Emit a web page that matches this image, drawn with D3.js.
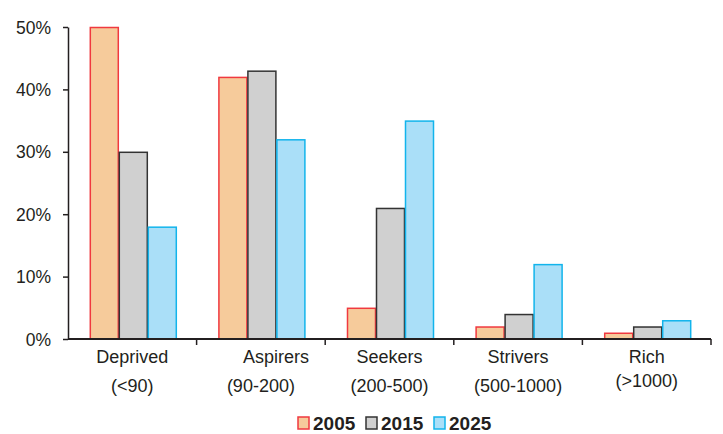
<!DOCTYPE html>
<html><head><meta charset="utf-8">
<script src="https://cdn.jsdelivr.net/npm/d3@7"></script>
<style>
html,body{margin:0;padding:0;background:#fff;}
svg text{font-family:"Liberation Sans",Arial,sans-serif;fill:#231f20;}
</style></head>
<body><svg id="c" width="723" height="434"></svg>
<script>
const categories = ["Deprived","Aspirers","Seekers","Strivers","Rich"];
const categorySub = ["(<90)","(90-200)","(200-500)","(500-1000)","(>1000)"];
const series = ["2005","2015","2025"];
const v2005 = [50,42,5,2,1];
const v2015 = [30,43,21,4,2];
const v2025 = [18,32,35,12,3];
const yTicks = [0,10,20,30,40,50];

const values = [v2005,v2015,v2025];
const fills = ["#f6cb9b","#d0d0d0","#aadff8"];
const strokes = ["#f0393f","#333333","#12b4ec"];

const svg = d3.select("#c");
const m = {l:68, r:711, t:27, b:339};
const x = d3.scaleBand().domain(categories).range([m.l,m.r]).paddingInner(0).paddingOuter(0);
const y = d3.scaleLinear().domain([0,50]).range([m.b,m.t]);
const xs = d3.scaleBand().domain(series).range([0,87]);

// bars
series.forEach((s,si)=>{
  svg.append("g").selectAll("rect").data(categories).join("rect")
    .attr("x",(c)=>x(c)+x.bandwidth()/2-43.5+1+xs(s)+0.5)
    .attr("y",(c,i)=>y(values[si][i])+0.5)
    .attr("width",xs.bandwidth()-1)
    .attr("height",(c,i)=>y(0)-y(values[si][i])-0.5)
    .attr("fill",fills[si]).attr("stroke",strokes[si]).attr("stroke-width",1.5);
});

// y axis
const ya = svg.append("g").attr("transform",`translate(${m.l},0)`)
  .call(d3.axisLeft(y).tickValues(yTicks).tickFormat(d=>d+"%").tickSize(5).tickSizeOuter(0));
ya.select(".domain").attr("stroke","#231f20").attr("stroke-width",1.5);
ya.selectAll(".tick line").attr("stroke","#231f20").attr("stroke-width",1.5);
ya.selectAll(".tick text").attr("font-size",17.5).attr("x",-17).attr("dy","0.35em");

// x axis
const xa = svg.append("g").attr("transform",`translate(0,${m.b})`);
xa.append("line").attr("x1",m.l).attr("x2",m.r).attr("stroke","#231f20").attr("stroke-width",2);
const bounds = categories.map(c=>x(c)+x.bandwidth());
xa.selectAll("line.t").data(bounds).join("line").attr("class","t")
  .attr("x1",d=>d).attr("x2",d=>d).attr("y1",0).attr("y2",6)
  .attr("stroke","#231f20").attr("stroke-width",1.5);
const labelShift = [0,15,0,0,0];
const subDy = [0,0,0,0,-5];
categories.forEach((c,i)=>{
  const cx = x(c)+x.bandwidth()/2;
  svg.append("text").attr("x",cx+labelShift[i]).attr("y",363).attr("text-anchor","middle")
    .attr("font-size",18).text(c);
  svg.append("text").attr("x",cx).attr("y",392+subDy[i]).attr("text-anchor","middle")
    .attr("font-size",18).text(categorySub[i]);
});

// legend
const legX = [298,366,434];
const lg = svg.append("g");
series.forEach((s,i)=>{
  lg.append("rect").attr("x",legX[i]).attr("y",417).attr("width",11).attr("height",12)
    .attr("fill",fills[i]).attr("stroke",strokes[i]).attr("stroke-width",1.5);
  lg.append("text").attr("x",legX[i]+15).attr("y",430).attr("font-size",19).attr("font-weight","bold").text(s);
});
</script></body></html>
